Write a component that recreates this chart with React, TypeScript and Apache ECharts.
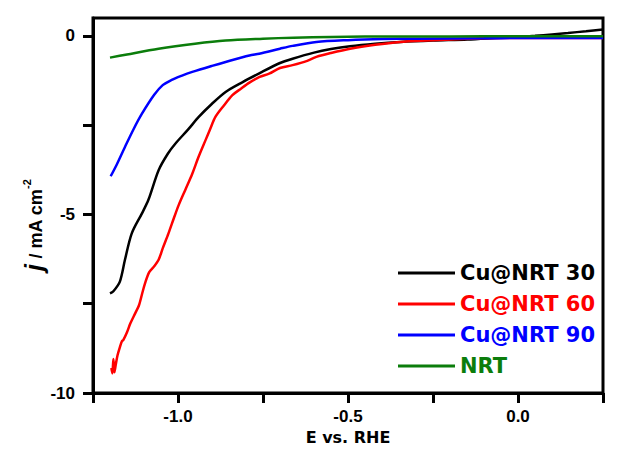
import React, { useEffect, useRef } from "react";
import * as echarts from "echarts";

const seriesNames = ["Cu@NRT 30", "Cu@NRT 60", "Cu@NRT 90", "NRT"];
const seriesColors = ["#000000", "#ff0000", "#0000ff", "#0b7d0b"];

const x30 = [-1.2, -1.19, -1.171, -1.156, -1.136, -1.106, -1.087, -1.057, -1.03, -1.008, -0.97, -0.939, -0.9, -0.86, -0.811, -0.761, -0.7, -0.663, -0.6, -0.55, -0.494, -0.42, -0.346, -0.25, -0.149, -0.05, 0.0, 0.05, 0.1, 0.147, 0.2, 0.25];
const y30 = [-7.21, -7.15, -6.88, -6.27, -5.53, -4.97, -4.59, -3.76, -3.3, -3.02, -2.62, -2.27, -1.9, -1.57, -1.3, -1.05, -0.76, -0.64, -0.47, -0.37, -0.29, -0.22, -0.17, -0.13, -0.1, -0.05, -0.03, 0.0, 0.04, 0.08, 0.13, 0.18];

const x60 = [-1.196, -1.193, -1.19, -1.187, -1.183, -1.178, -1.172, -1.165, -1.161, -1.15, -1.14, -1.126, -1.115, -1.105, -1.097, -1.085, -1.07, -1.057, -1.045, -1.028, -1.012, -0.998, -0.978, -0.958, -0.94, -0.919, -0.905, -0.89, -0.865, -0.84, -0.815, -0.79, -0.76, -0.732, -0.7, -0.663, -0.62, -0.593, -0.55, -0.494, -0.42, -0.346, -0.27, -0.198, -0.1, 0.0, 0.1, 0.25];
const y60 = [-9.3, -9.45, -9.05, -9.42, -9.2, -8.95, -8.75, -8.55, -8.52, -8.3, -8.05, -7.77, -7.55, -7.2, -6.93, -6.62, -6.45, -6.27, -5.95, -5.53, -5.1, -4.74, -4.3, -3.86, -3.4, -2.92, -2.6, -2.27, -1.95, -1.66, -1.48, -1.31, -1.15, -1.06, -0.9, -0.82, -0.7, -0.59, -0.48, -0.36, -0.25, -0.17, -0.13, -0.1, -0.07, -0.06, -0.06, -0.06];

const x90 = [-1.198, -1.18, -1.156, -1.13, -1.106, -1.07, -1.045, -1.02, -0.99, -0.958, -0.9, -0.86, -0.79, -0.761, -0.7, -0.663, -0.593, -0.5, -0.396, -0.3, -0.1, 0.0, 0.1, 0.25];
const y90 = [-3.93, -3.6, -3.11, -2.6, -2.18, -1.65, -1.38, -1.24, -1.12, -1.01, -0.84, -0.73, -0.55, -0.5, -0.36, -0.28, -0.17, -0.12, -0.09, -0.08, -0.07, -0.06, -0.06, -0.06];

const xNRT = [-1.2, -1.15, -1.057, -0.95, -0.86, -0.75, -0.66, -0.55, -0.45, -0.3, -0.1, 0.1, 0.25];
const yNRT = [-0.61, -0.52, -0.36, -0.22, -0.13, -0.08, -0.05, -0.03, -0.02, -0.02, -0.01, -0.01, -0.01];

const xTicks = [-1.25, -1.0, -0.75, -0.5, -0.25, 0.0, 0.25];
const xLabels = [-1.0, -0.5, 0.0];
const yTicks = [-10, -7.5, -5, -2.5, 0];
const yLabels = [-10, -5, 0];

const zip = (xs: number[], ys: number[]) => xs.map((x, i) => [x, ys[i]]);

export default function App() {
  const ref = useRef<HTMLDivElement>(null);
  useEffect(() => {
    document.body.style.margin = "0";
    const chart = echarts.init(ref.current!, null, { renderer: "svg" });
    const tickFont = { fontFamily: "Liberation Sans, Arial, sans-serif", fontWeight: "bold" as const, fontSize: 17, color: "#000" };
    const dataSets = [zip(x30, y30), zip(x60, y60), zip(x90, y90), zip(xNRT, yNRT)];
    chart.setOption({
      animation: false,
      backgroundColor: "#fff",
      grid: { left: 93, right: 15, top: 18, bottom: 61, show: true, borderColor: "#000", borderWidth: 3, backgroundColor: "transparent" },
      legend: {
        orient: "vertical",
        left: 393,
        top: 257,
        icon: "rect",
        itemWidth: 57,
        itemHeight: 3,
        itemGap: 9,
        textStyle: { fontFamily: "DejaVu Sans", fontWeight: "bold", fontSize: 21, lineHeight: 22 },
        data: seriesNames.map((n, i) => ({ name: n, textStyle: { color: seriesColors[i] } })),
      },
      graphic: [
        {
          type: "text",
          x: 34,
          y: 225,
          rotation: Math.PI / 2,
          style: {
            text: "{j|j}{b| / mA cm}{s|-2}",
            align: "center",
            verticalAlign: "middle",
            fill: "#000",
            rich: {
              j: { fontFamily: "Liberation Sans, Arial", fontStyle: "italic", fontWeight: "bold", fontSize: 25, verticalAlign: "bottom", fill: "#000" },
              b: { fontFamily: "Liberation Sans, Arial", fontWeight: "bold", fontSize: 18, verticalAlign: "bottom", fill: "#000", padding: [0, 0, 2, 0] },
              s: { fontFamily: "Liberation Sans, Arial", fontWeight: "bold", fontSize: 11, verticalAlign: "top", fill: "#000" },
            },
          },
        },
      ],
      xAxis: {
        type: "value",
        min: -1.25,
        max: 0.25,
        interval: 0.25,
        splitLine: { show: false },
        axisLine: { onZero: false, lineStyle: { color: "#000", width: 3 } },
        axisTick: { show: true, length: 10, lineStyle: { width: 3, color: "#000" }, customValues: xTicks },
        axisLabel: { ...tickFont, margin: 15, customValues: xLabels, formatter: (v: number) => v.toFixed(1) },
        name: "E vs. RHE",
        nameLocation: "middle",
        nameGap: 35,
        nameTextStyle: { fontFamily: "DejaVu Sans", fontWeight: "bold", fontSize: 16, color: "#000" },
      },
      yAxis: {
        type: "value",
        min: -10,
        max: 0.5,
        interval: 2.5,
        splitLine: { show: false },
        axisLine: { onZero: false, lineStyle: { color: "#000", width: 3 } },
        axisTick: { show: true, length: 10, lineStyle: { width: 3, color: "#000" }, customValues: yTicks },
        axisLabel: { ...tickFont, margin: 18, customValues: yLabels, formatter: (v: number) => String(v) },
      },
      series: dataSets.map((d, i) => ({
        name: seriesNames[i],
        type: "line",
        data: d,
        showSymbol: false,
        smooth: 0.3,
        lineStyle: { width: 2.5, color: seriesColors[i] },
        itemStyle: { color: seriesColors[i] },
        z: 2 + i,
      })),
    });
    return () => chart.dispose();
  }, []);
  return <div ref={ref} style={{ width: 618, height: 454 }} />;
}
